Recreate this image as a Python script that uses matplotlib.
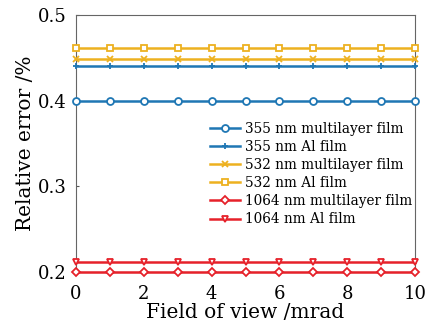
import matplotlib
matplotlib.use('Agg')
import matplotlib.pyplot as plt
import numpy as np

plt.rcParams['font.family'] = 'DejaVu Serif'
plt.rcParams['mathtext.fontset'] = 'dejavuserif'

# field of view (mrad)
fov = np.arange(0, 11, 1)

labels = ['355 nm multilayer film', '355 nm Al film',
          '532 nm multilayer film', '532 nm Al film',
          '1064 nm multilayer film', '1064 nm Al film']
levels = [0.400, 0.441, 0.449, 0.461, 0.200, 0.212]
colors = ['#1f77b4', '#1f77b4', '#edb120', '#edb120', '#e6212a', '#e6212a']
markers = ['o', '+', 'x', 's', 'D', 'v']

fig = plt.figure(figsize=(4.3, 3.25), dpi=100)
ax = fig.add_axes([0.177, 0.163, 0.788, 0.791])

for lab, lv, c, m in zip(labels, levels, colors, markers):
    y = np.full(len(fov), lv)
    face = 'white' if m in ('o', 's', 'D', 'v') else c
    ms = 5 if m != 'D' else 4
    ax.plot(fov, y, color=c, marker=m, markersize=ms, markerfacecolor=face,
            markeredgewidth=1.3, linewidth=1.8, label=lab, clip_on=False,
            zorder=3)

ax.set_xlim(0, 10)
ax.set_ylim(0.2, 0.5)
ax.set_xticks([0, 2, 4, 6, 8, 10])
ax.set_yticks([0.2, 0.3, 0.4, 0.5])
ax.set_yticklabels(['0.2', '0.3', '0.4', '0.5'])
ax.tick_params(direction='in', length=2, labelsize=13, color='#555555')
ax.tick_params(axis='x', pad=9)
ax.tick_params(axis='y', pad=7)
for s in ax.spines.values():
    s.set_color('#666666')
    s.set_linewidth(0.8)

ax.set_xlabel('Field of view /mrad', fontsize=14.5, labelpad=0)
ax.set_ylabel('Relative error /%', fontsize=14.5, labelpad=2)

ax.legend(loc='center left', bbox_to_anchor=(0.395, 0.381), frameon=False,
          fontsize=9.8, handlelength=2.2, handletextpad=0.4, labelspacing=0.3,
          borderaxespad=0, borderpad=0)

fig.savefig('out.png', dpi=100)
